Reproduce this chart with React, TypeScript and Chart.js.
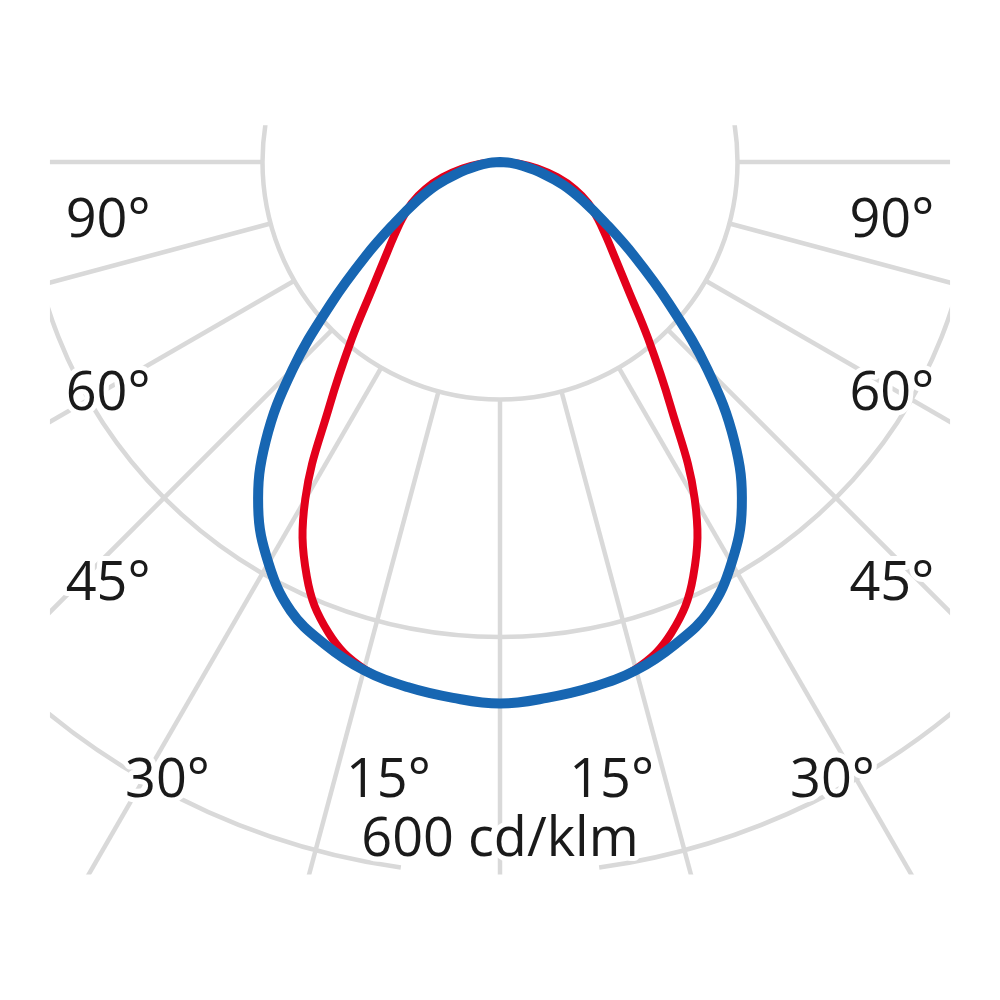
import React, { useEffect, useRef } from "react";
import Chart from "chart.js/auto";

// gamma angles (degrees from nadir), mirrored to both halves of the diagram
const gammaAngles = [0, 5, 10, 15, 20, 25, 30, 35, 40, 45, 50, 55, 60, 65, 70, 75, 80, 85, 90];
// luminous intensity in cd/klm
const planeC0 = [456, 453, 449, 443, 432, 417, 390, 355, 307, 247, 186, 138, 102, 77, 57, 37, 20, 9, 0];
const planeC90 = [456, 453, 449, 442, 422, 385, 328, 250, 194, 153, 127, 109, 95, 82, 67, 50, 32, 16, 0];

const ringValues = [200, 400, 600];
const spokeStep = 15;
const angleLabels = ["90°", "60°", "45°", "30°", "15°"];
const unitLabel = "600 cd/klm";

// layout (chart units = cd/klm)
const PX = 1.1875;
const CENTER_Y = 162;
const labelAnchors = [
  { x: -330, y: -63 },
  { x: -330, y: -209 },
  { x: -330, y: -369 },
  { x: -280, y: -535 },
  { x: -94, y: -535 },
];
const unitAnchor = { x: 0, y: -584 };
const frame = { left: -379, right: 379, top: 31, bottom: -600 };

function toPoints(values: number[]) {
  const pts: { x: number; y: number }[] = [];
  for (let i = gammaAngles.length - 1; i > 0; i--) {
    const t = (-gammaAngles[i] * Math.PI) / 180;
    pts.push({ x: values[i] * Math.sin(t), y: -values[i] * Math.cos(t) });
  }
  for (let i = 0; i < gammaAngles.length; i++) {
    const t = (gammaAngles[i] * Math.PI) / 180;
    pts.push({ x: values[i] * Math.sin(t), y: -values[i] * Math.cos(t) });
  }
  return pts;
}

const polarGrid = {
  id: "polarGrid",
  beforeDatasetsDraw(chart: any) {
    const { ctx, scales } = chart;
    const sx = scales.x;
    const sy = scales.y;
    const cx = sx.getPixelForValue(0);
    const cy = sy.getPixelForValue(0);
    const unit = sx.getPixelForValue(1) - cx;

    ctx.save();
    const l = sx.getPixelForValue(frame.left);
    const r = sx.getPixelForValue(frame.right);
    const t = sy.getPixelForValue(frame.top);
    const b = sy.getPixelForValue(frame.bottom);
    ctx.beginPath();
    ctx.rect(l, t, r - l, b - t);
    ctx.clip();

    ctx.strokeStyle = "#d9d9d9";
    ctx.lineWidth = 4.5;
    ringValues.forEach((v, i) => {
      ctx.beginPath();
      if (i === ringValues.length - 1) {
        // leave room for the unit label
        const gap = (8 * Math.PI) / 180;
        ctx.arc(cx, cy, v * unit, Math.PI / 2 + gap, Math.PI / 2 - gap + Math.PI * 2);
      } else {
        ctx.arc(cx, cy, v * unit, 0, Math.PI * 2);
      }
      ctx.stroke();
    });

    const inner = ringValues[0] * unit;
    for (let a = 0; a < 360; a += spokeStep) {
      const rad = Math.PI / 2 + (a * Math.PI) / 180;
      ctx.beginPath();
      ctx.moveTo(cx + inner * Math.cos(rad), cy + inner * Math.sin(rad));
      ctx.lineTo(cx + 1500 * Math.cos(rad), cy + 1500 * Math.sin(rad));
      ctx.stroke();
    }
    ctx.restore();

    // labels
    ctx.save();
    ctx.font = '54px "Open Sans", "Noto Sans", sans-serif';
    ctx.textAlign = "center";
    ctx.textBaseline = "alphabetic";
    ctx.lineJoin = "round";
    const drawText = (text: string, x: number, y: number) => {
      const px = sx.getPixelForValue(x);
      const py = sy.getPixelForValue(y);
      ctx.strokeStyle = "#ffffff";
      ctx.lineWidth = 10;
      ctx.strokeText(text, px, py);
      ctx.fillStyle = "#1a1a1a";
      ctx.fillText(text, px, py);
    };
    angleLabels.forEach((text, i) => {
      const p = labelAnchors[i];
      drawText(text, p.x, p.y);
      drawText(text, -p.x, p.y);
    });
    drawText(unitLabel, unitAnchor.x, unitAnchor.y);
    ctx.restore();
  },
};

export default function App() {
  const canvasRef = useRef<HTMLCanvasElement>(null);
  const chartRef = useRef<Chart | null>(null);

  useEffect(() => {
    if (!canvasRef.current) return;
    if (chartRef.current) chartRef.current.destroy();

    chartRef.current = new Chart(canvasRef.current, {
      type: "scatter",
      data: {
        datasets: [
          {
            label: "C0 - C180",
            data: toPoints(planeC0),
            showLine: true,
            borderColor: "#1766b2",
            borderWidth: 10,
            pointRadius: 0,
            tension: 0.4,
            borderCapStyle: "round",
            borderJoinStyle: "round",
          },
          {
            label: "C90 - C270",
            data: toPoints(planeC90),
            showLine: true,
            borderColor: "#e3001b",
            borderWidth: 8,
            pointRadius: 0,
            tension: 0.4,
            borderCapStyle: "round",
            borderJoinStyle: "round",
          },
        ],
      },
      options: {
        responsive: false,
        maintainAspectRatio: false,
        animation: false,
        events: [],
        layout: { padding: 0 },
        scales: {
          x: { type: "linear", min: -500 / PX, max: 500 / PX, display: false },
          y: { type: "linear", min: -(1000 - CENTER_Y) / PX, max: CENTER_Y / PX, display: false },
        },
        plugins: {
          legend: { display: false },
          tooltip: { enabled: false },
        },
      },
      plugins: [polarGrid],
    });

    return () => {
      if (chartRef.current) {
        chartRef.current.destroy();
        chartRef.current = null;
      }
    };
  }, []);

  return (
    <div style={{ position: "absolute", left: 0, top: 0, width: 1000, height: 1000, background: "#fff" }}>
      <canvas ref={canvasRef} width={1000} height={1000} style={{ display: "block" }} />
    </div>
  );
}
